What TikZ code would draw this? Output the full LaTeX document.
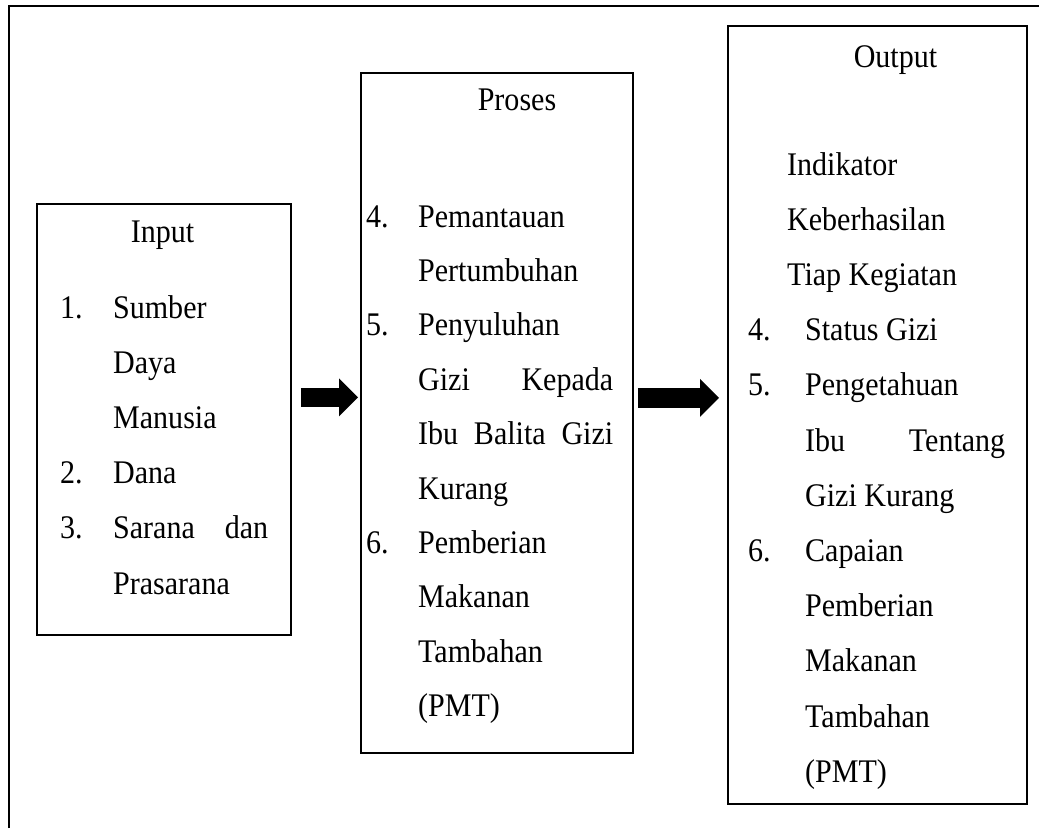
\documentclass[tikz,border=0pt]{standalone}
\usepackage{fontspec}
\setmainfont{Liberation Serif}[FakeStretch=0.91]
\usetikzlibrary{arrows.meta}

\tikzstyle{panel} = [draw=black, line width=1.8pt, rectangle,
    inner sep=0pt, anchor=north west]
\tikzstyle{headtext} = [anchor=base, inner sep=0pt,
    font=\fontsize{33}{55.2}\selectfont]
\tikzstyle{listtext} = [anchor=base west, inner sep=0pt,
    font=\fontsize{33}{55.2}\selectfont]
\tikzstyle{bigarrow} = [line width=19.5pt,
    -{Triangle[length=19pt, width=38pt, line width=0pt]}]

\begin{document}
\begin{tikzpicture}[x=1pt, y=-1pt]
\useasboundingbox (0,0) rectangle (1039,828);
\draw[line width=2.2pt] (9,828) |- (1039,5.7);

\node[panel, minimum width=254pt, minimum height=431pt] (input) at (36,203) {};
\node[panel, minimum width=272pt, minimum height=680pt] (proses) at (360,72) {};
\node[panel, minimum width=299pt, minimum height=778pt] (output) at (727,25) {};

\node[headtext] (inputhead) at (162.5,242) {Input};
\node[listtext] (inputlist) at (60,318) {%
\begin{tabular}[t]{@{}p{53pt}@{}p{155pt}@{}}
1. & Sumber \\
   & Daya \\
   & Manusia \\
2. & Dana \\
3. & Sarana \hfill dan \\
   & Prasarana
\end{tabular}};

\node[headtext] (proseshead) at (517,110) {Proses};
\node[listtext, font=\fontsize{33}{54.4}\selectfont] (proseslist) at (366,227) {%
\begin{tabular}[t]{@{}p{52pt}@{}p{195pt}@{}}
4. & Pemantauan \\
   & Pertumbuhan \\
5. & Penyuluhan \\
   & Gizi \hfill Kepada \\
   & Ibu \hfill Balita \hfill Gizi \\
   & Kurang \\
6. & Pemberian \\
   & Makanan \\
   & Tambahan \\
   & (PMT)
\end{tabular}};

\node[headtext] (outputhead) at (895.5,67) {Output};
\node[listtext] (outputlist) at (748,175) {%
\begin{tabular}[t]{@{}p{57pt}@{}p{200pt}@{}}
\multicolumn{2}{@{\hspace{39pt}}l@{}}{Indikator} \\
\multicolumn{2}{@{\hspace{39pt}}l@{}}{Keberhasilan} \\
\multicolumn{2}{@{\hspace{39pt}}l@{}}{Tiap Kegiatan} \\
4. & Status Gizi \\
5. & Pengetahuan \\
   & Ibu \hfill Tentang \\
   & Gizi Kurang \\
6. & Capaian \\
   & Pemberian \\
   & Makanan \\
   & Tambahan \\
   & (PMT)
\end{tabular}};

\draw[bigarrow] ([shift={(9,-22)}]input.east) -- ([shift={(-2,-15.5)}]proses.west);
\draw[bigarrow] ([shift={(4,-15)}]proses.east) -- ([shift={(-8,-17)}]output.west);
\end{tikzpicture}
\end{document}
